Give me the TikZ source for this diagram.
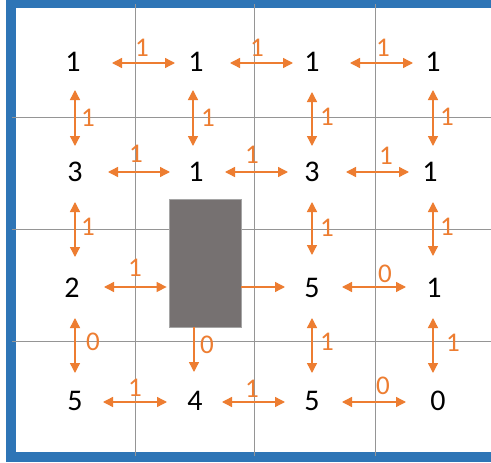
\documentclass[tikz,border=0pt]{standalone}
\usepackage{fontspec}
\setmainfont{Carlito}
\usetikzlibrary{arrows.meta,calc}
\definecolor{fblue}{HTML}{2E75B6}
\definecolor{forange}{HTML}{ED7D31}
\definecolor{fgrid}{HTML}{959595}
\definecolor{fblock}{HTML}{767171}
\definecolor{fblockedge}{HTML}{A5A5A5}
\begin{document}
\begin{tikzpicture}[x=1pt,y=-1pt,
  num/.style={font=\fontsize{30}{30}\selectfont, inner sep=0pt, text=black},
  lab/.style={font=\fontsize{27}{27}\selectfont, inner sep=0pt, text=forange},
  dbl/.style={draw=forange, line width=1.4pt, {Triangle[length=10pt,width=10pt]}-{Triangle[length=10pt,width=10pt]}},
  onew/.style={draw=forange, line width=1.4pt, -{Triangle[length=10pt,width=10pt]}},
  gridline/.style={draw=fgrid, line width=1pt},
  bar/.style={fill=fblue},
  ]
\useasboundingbox (0,0) rectangle (491,463);
\fill[white] (0,0) rectangle (491,463);
% blue frame
\fill[bar] (6,0) rectangle (491,8);
\fill[bar] (6,0) rectangle (16,462);
\fill[bar] (6,452) rectangle (491,462);
% grid
\draw[gridline] (12,117) -- (491,117);
\draw[gridline] (12,229) -- (491,229);
\draw[gridline] (12,341) -- (491,341);
\draw[gridline] (135,4) -- (135,456);
\draw[gridline] (254,4) -- (254,456);
\draw[gridline] (375,4) -- (375,456);
% obstacle
\node[draw=fblockedge, fill=fblock, line width=0.8pt, minimum width=72pt, minimum height=128pt, inner sep=0pt] (blk) at (205,263) {};
% numbers
\node[num] (n11) at (73,62) {1};
\node[num] (n12) at (196,62) {1};
\node[num] (n13) at (312,62) {1};
\node[num] (n14) at (433,62) {1};
\node[num] (n21) at (75,172) {3};
\node[num] (n22) at (196,172) {1};
\node[num] (n23) at (312,172) {3};
\node[num] (n24) at (430,172) {1};
\node[num] (n31) at (72,288) {2};
\node[num] (n33) at (312,288) {5};
\node[num] (n34) at (434,288) {1};
\node[num] (n41) at (75,401) {5};
\node[num] (n42) at (195,401) {4};
\node[num] (n43) at (312,401) {5};
\node[num] (n44) at (438,401) {0};
% horizontal arrows
\draw[dbl] ($(n11)+(39,1)$) -- ($(n12)+(-21,1)$);
\draw[dbl] ($(n12)+(34,1)$) -- ($(n13)+(-19,1)$);
\draw[dbl] ($(n13)+(38,1)$) -- ($(n14)+(-20,1)$);
\draw[dbl] ($(n21)+(33,0)$) -- ($(n22)+(-26,0)$);
\draw[dbl] ($(n22)+(29,0)$) -- ($(n23)+(-24,0)$);
\draw[dbl] ($(n23)+(34,0)$) -- ($(n24)+(-21,0)$);
\draw[dbl] ($(n31)+(32,-1)$) -- ($(blk.west |- n31)+(-2,-1)$);
\draw[onew] ($(blk.east |- n33)+(0,-1)$) -- ($(n33)+(-27,-1)$);
\draw[dbl] ($(n33)+(30,-1)$) -- ($(n34)+(-28,-1)$);
\draw[dbl] ($(n41)+(28,1)$) -- ($(n42)+(-28,1)$);
\draw[dbl] ($(n42)+(27,1)$) -- ($(n43)+(-27,1)$);
\draw[dbl] ($(n43)+(30,1)$) -- ($(n44)+(-32,1)$);
% vertical arrows
\draw[dbl] ($(n11)+(2,28)$) -- ($(n21)+(0,-26)$);
\draw[dbl] ($(n21)+(0,30)$) -- ($(n31)+(3,-31)$);
\draw[dbl] ($(n31)+(3,30)$) -- ($(n41)+(0,-28)$);
\draw[dbl] ($(n12)+(-3,28)$) -- ($(n22)+(-3,-26)$);
\draw[onew] ($(blk.south)+(-11,0)$) -- ($(n42)+(-1,-29)$);
\draw[dbl] ($(n13)+(0,30)$) -- ($(n23)+(0,-26)$);
\draw[dbl] ($(n23)+(0,30)$) -- ($(n33)+(0,-33)$);
\draw[dbl] ($(n33)+(0,30)$) -- ($(n43)+(0,-28)$);
\draw[dbl] ($(n14)+(0,28)$) -- ($(n24)+(3,-26)$);
\draw[dbl] ($(n24)+(3,30)$) -- ($(n34)+(-1,-32)$);
\draw[dbl] ($(n34)+(-1,30)$) -- ($(n44)+(-5,-28)$);
% labels on horizontal arrows
\node[lab] (h1a) at (142,48) {1};
\node[lab] (h1b) at (257,48) {1};
\node[lab] (h1c) at (383,48) {1};
\node[lab] (h2a) at (136,154) {1};
\node[lab] (h2b) at (252,155) {1};
\node[lab] (h2c) at (386,156) {1};
\node[lab] (h3a) at (135,268) {1};
\node[lab] (h3c) at (385,274) {0};
\node[lab] (h4a) at (135,388) {1};
\node[lab] (h4b) at (252,389) {1};
\node[lab] (h4c) at (383,386) {0};
% labels on vertical arrows
\node[lab] (v1a) at (88,118) {1};
\node[lab] (v1b) at (88,227) {1};
\node[lab] (v1c) at (93,342) {0};
\node[lab] (v2a) at (208,118) {1};
\node[lab] (v2c) at (207,345) {0};
\node[lab] (v3a) at (327,117) {1};
\node[lab] (v3b) at (327,228) {1};
\node[lab] (v3c) at (327,342) {1};
\node[lab] (v4a) at (447,117) {1};
\node[lab] (v4b) at (447,227) {1};
\node[lab] (v4c) at (453,343) {1};
\end{tikzpicture}
\end{document}
